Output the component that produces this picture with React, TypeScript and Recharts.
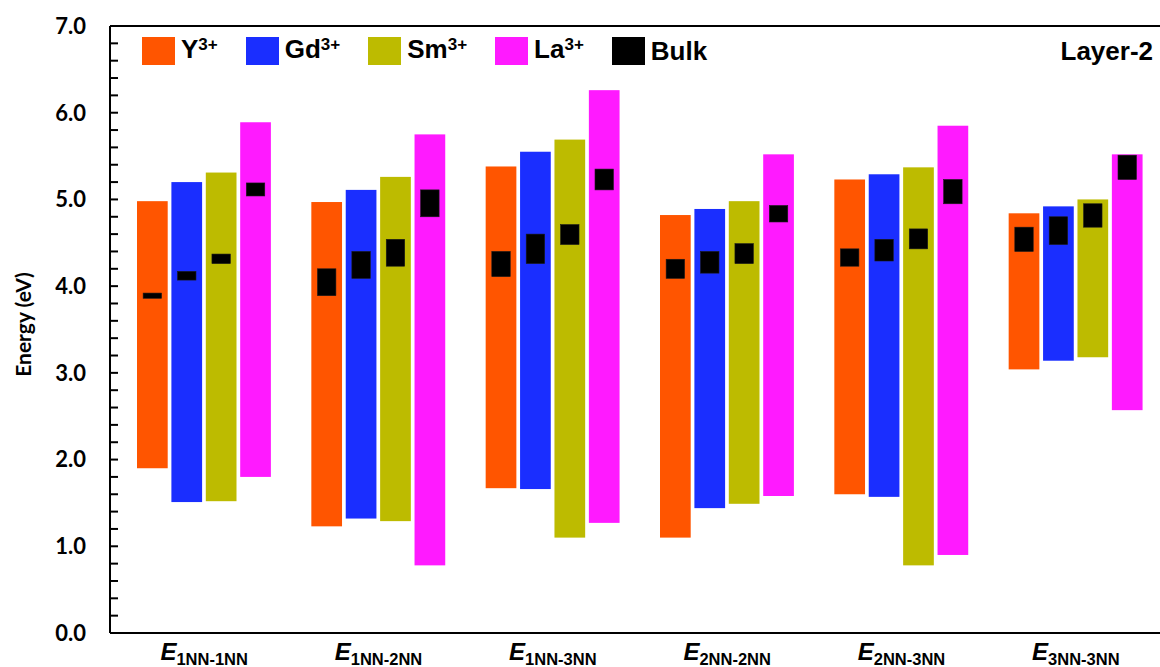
import React from 'react';
import { BarChart, Bar, XAxis, YAxis, ReferenceLine, Legend, Label } from 'recharts';

const categories = ['1NN-1NN', '1NN-2NN', '1NN-3NN', '2NN-2NN', '2NN-3NN', '3NN-3NN'];

const yLow = [1.90, 1.23, 1.67, 1.10, 1.60, 3.04];
const yHigh = [4.98, 4.97, 5.38, 4.82, 5.23, 4.84];
const gdLow = [1.51, 1.32, 1.66, 1.44, 1.57, 3.14];
const gdHigh = [5.20, 5.11, 5.55, 4.89, 5.29, 4.92];
const smLow = [1.52, 1.29, 1.10, 1.49, 0.78, 3.18];
const smHigh = [5.31, 5.26, 5.69, 4.98, 5.37, 5.00];
const laLow = [1.80, 0.78, 1.27, 1.58, 0.90, 2.57];
const laHigh = [5.89, 5.75, 6.26, 5.52, 5.85, 5.52];

const yBulkLow = [3.86, 3.89, 4.11, 4.09, 4.23, 4.40];
const yBulkHigh = [3.92, 4.20, 4.40, 4.31, 4.43, 4.68];
const gdBulkLow = [4.07, 4.09, 4.26, 4.15, 4.29, 4.48];
const gdBulkHigh = [4.17, 4.40, 4.60, 4.40, 4.54, 4.80];
const smBulkLow = [4.26, 4.23, 4.48, 4.26, 4.43, 4.68];
const smBulkHigh = [4.37, 4.54, 4.71, 4.49, 4.66, 4.95];
const laBulkLow = [5.04, 4.80, 5.11, 4.74, 4.95, 5.23];
const laBulkHigh = [5.19, 5.11, 5.35, 4.93, 5.23, 5.51];

const seriesKeys = ['Y', 'Gd', 'Sm', 'La'];
const seriesLabels = ['Y', 'Gd', 'Sm', 'La'];
const seriesColors = ['#FF5500', '#1A2EFF', '#BDBB00', '#FF1AFF'];
const bulkLabel = 'Bulk';
const bulkColor = '#000000';
const panelLabel = 'Layer-2';
const yAxisTitle = 'Energy (eV)';

const yTicks = [
  0, 0.2, 0.4, 0.6, 0.8, 1, 1.2, 1.4, 1.6, 1.8, 2, 2.2, 2.4, 2.6, 2.8, 3, 3.2, 3.4, 3.6, 3.8,
  4, 4.2, 4.4, 4.6, 4.8, 5, 5.2, 5.4, 5.6, 5.8, 6, 6.2, 6.4, 6.6, 6.8, 7,
];
const labeledTicks = [0, 1, 2, 3, 4, 5, 6, 7];

const data = categories.map((cat, i) => ({
  cat,
  Y: [yLow[i], yHigh[i]],
  Y_bulk: [yBulkLow[i], yBulkHigh[i]],
  Gd: [gdLow[i], gdHigh[i]],
  Gd_bulk: [gdBulkLow[i], gdBulkHigh[i]],
  Sm: [smLow[i], smHigh[i]],
  Sm_bulk: [smBulkLow[i], smBulkHigh[i]],
  La: [laLow[i], laHigh[i]],
  La_bulk: [laBulkLow[i], laBulkHigh[i]],
}));

const FONT = '"Liberation Sans", Arial, sans-serif';

const makeShape = (key: string) => (props: any) => {
  const { x, y, width, height, fill, payload } = props;
  const [lo, hi] = payload[key];
  const [bLo, bHi] = payload[key + '_bulk'];
  const toPx = (v: number) => y + ((hi - v) / (hi - lo)) * height;
  const bw = width * 0.6;
  const bx = x + (width - bw) / 2;
  const by = toPx(bHi);
  const bh = toPx(bLo) - by;
  return (
    <g>
      <rect x={x} y={y} width={width} height={height} fill={fill} />
      <rect x={bx} y={by} width={bw} height={bh} fill={bulkColor} stroke="#1a1a1a" strokeWidth={0.6} />
    </g>
  );
};

const XTick = (props: any) => {
  const { x, y, payload } = props;
  return (
    <text x={x} y={y + 27} textAnchor="middle" fontFamily={FONT} fontWeight="bold" fill="#000">
      <tspan fontStyle="italic" fontSize={24}>E</tspan>
      <tspan fontSize={16.5} dy={5}>{payload.value}</tspan>
    </text>
  );
};

const LegendContent = () => {
  const items = [
    ...seriesLabels.map((l, i) => ({ label: l, sup: '3+', color: seriesColors[i] })),
    { label: bulkLabel, sup: '', color: bulkColor },
  ];
  return (
    <div style={{ display: 'flex', alignItems: 'center', gap: 28, fontFamily: FONT, fontWeight: 'bold', whiteSpace: 'nowrap' }}>
      {items.map((it) => (
        <div key={it.label} style={{ display: 'flex', alignItems: 'center' }}>
          <div style={{ width: 33, height: 28, background: it.color }} />
          <span style={{ marginLeft: 6, fontSize: 26, lineHeight: '26px', color: '#000' }}>
            {it.label}
            {it.sup && (
              <span style={{ fontSize: 17, position: 'relative', top: -8 }}>{it.sup}</span>
            )}
          </span>
        </div>
      ))}
    </div>
  );
};

const YTitle = (props: any) => {
  const vb = props.viewBox || { x: 0, y: 26, width: 110, height: 607 };
  const cx = vb.x + 22;
  const cy = vb.y + vb.height / 2 - 5;
  return (
    <text
      x={cx}
      y={cy}
      transform={`rotate(-90, ${cx}, ${cy})`}
      textAnchor="middle"
      dominantBaseline="central"
      fontFamily="Lato, sans-serif"
      fontWeight="bold"
      fontSize={21}
      fill="#000"
    >
      {yAxisTitle}
    </text>
  );
};

export default function App() {
  return (
    <div
      style={{
        position: 'fixed',
        left: 0,
        top: 0,
        width: 1160,
        height: 667,
        overflow: 'hidden',
        background: '#fff',
      }}
    >
      <BarChart
        width={1166}
        height={667}
        data={data}
        margin={{ top: 26, right: 3, left: 0, bottom: 0 }}
        barSize={30.7}
        barGap={3.7}
      >
        <XAxis
          dataKey="cat"
          height={34}
          padding={{ left: 7, right: 0 }}
          tickLine={false}
          tickSize={0}
          tickMargin={0}
          axisLine={{ stroke: '#000', strokeWidth: 2 }}
          tick={<XTick />}
          interval={0}
        />
        <YAxis
          type="number"
          domain={[0, 7]}
          ticks={yTicks}
          interval={0}
          width={110}
          tickSize={-8}
          tickMargin={32}
          axisLine={{ stroke: '#000', strokeWidth: 2 }}
          tickLine={{ stroke: '#000', strokeWidth: 2 }}
          tick={{ fill: '#000', fontFamily: 'Lato, sans-serif', fontWeight: 'bold', fontSize: 22 }}
          tickFormatter={(v: number) => (labeledTicks.includes(v) ? v.toFixed(1) : '')}
        >
          <Label content={<YTitle />} />
        </YAxis>
        <ReferenceLine y={7} stroke="#000" strokeWidth={2} />
        {seriesKeys.map((k, i) => (
          <Bar
            key={k}
            dataKey={k}
            fill={seriesColors[i]}
            isAnimationActive={false}
            shape={makeShape(k)}
          />
        ))}
        <Legend
          layout="vertical"
          align="center"
          verticalAlign="middle"
          content={<LegendContent />}
          wrapperStyle={{ top: 36, left: 142, width: 'auto' }}
        />
      </BarChart>
      <div
        style={{
          position: 'absolute',
          right: 7,
          top: 38,
          fontFamily: FONT,
          fontWeight: 'bold',
          fontSize: 26,
          lineHeight: '26px',
          color: '#000',
        }}
      >
        {panelLabel}
      </div>
    </div>
  );
}
